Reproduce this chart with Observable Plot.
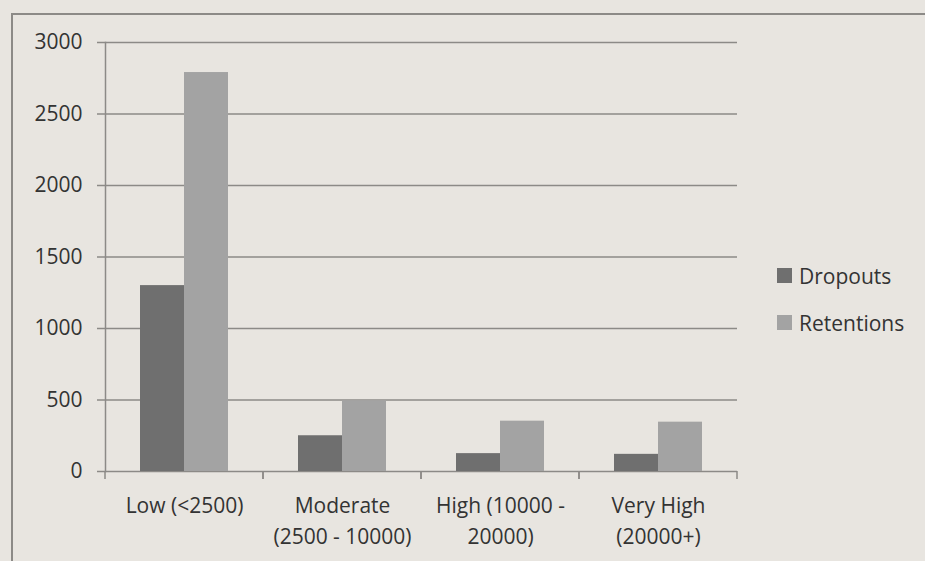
<!DOCTYPE html>
<html>
<head>
<meta charset="utf-8">
<script src="https://cdn.jsdelivr.net/npm/d3@7"></script>
<script src="https://cdn.jsdelivr.net/npm/@observablehq/plot@0.6"></script>
<style>
  html, body { margin: 0; padding: 0; background: #e8e5e0; overflow: hidden; }
  body { width: 925px; height: 561px; position: relative; font-family: "Open Sans", sans-serif; }
  #page { position: absolute; left: 0; top: 0; }
  #chart { position: absolute; left: 0; top: 0; }
  #legend { position: absolute; left: 777px; top: 252px; font-size: 21px; color: #333333; }
  #legend .item { display: flex; align-items: center; height: 47px; }
  #legend .sw { width: 15px; height: 15px; margin-right: 7px; }
</style>
</head>
<body>
<svg id="page" width="925" height="561">
  <path d="M12,561 V14 H925" fill="none" stroke="#8c8a87" stroke-width="2"/>
</svg>
<div id="chart"></div>
<div id="legend"></div>
<script>
const categories = ["Low (<2500)", "Moderate\n(2500 - 10000)", "High (10000 -\n20000)", "Very High\n(20000+)"];
const seriesNames = ["Dropouts", "Retentions"];
const dropouts = [1300, 250, 125, 120];
const retentions = [2790, 495, 352, 345];
const yTicks = [0, 500, 1000, 1500, 2000, 2500, 3000];
const colors = ["#6f6f6f", "#a3a3a3"];

const data = [];
categories.forEach((c, i) => {
  data.push({category: c, series: seriesNames[0], value: dropouts[i]});
  data.push({category: c, series: seriesNames[1], value: retentions[i]});
});

const gridColor = "#8c8a87";

function boundaryTicks(index, scales, values, dimensions, context) {
  const g = d3.create("svg:g");
  const [r0, r1] = scales.x.range();
  const y0 = scales.y(0);
  for (const px of [r0, r1]) {
    g.append("line")
      .attr("x1", px).attr("x2", px)
      .attr("y1", y0).attr("y2", y0 + 8)
      .attr("stroke", gridColor).attr("stroke-width", 1.5);
  }
  return g.node();
}

const plot = Plot.plot({
  width: 925,
  height: 561,
  marginLeft: 104,
  marginRight: 187,
  marginTop: 42,
  marginBottom: 90,
  style: {background: "transparent", fontFamily: "Open Sans, sans-serif", fontSize: "21px", color: "#333333"},
  fx: {domain: categories, padding: 0, label: null},
  x: {domain: seriesNames, paddingInner: 0, paddingOuter: 0.756, axis: null},
  y: {domain: [0, 3000], ticks: yTicks, label: null},
  color: {domain: seriesNames, range: colors},
  marks: [
    Plot.ruleY(yTicks, {stroke: gridColor, strokeWidth: 1.5}),
    Plot.barY(data, {fx: "category", x: "series", y: "value", fill: "series"}),
    Plot.frame({anchor: "left", facetAnchor: "left", stroke: gridColor, strokeWidth: 1.5}),
    boundaryTicks,
    Plot.axisY(yTicks, {tickSize: 8, tickPadding: 15, stroke: gridColor, strokeWidth: 1.5, label: null, fill: "#333333", tickFormat: d => String(d)}),
    Plot.axisFx({anchor: "bottom", tickSize: 0, tickPadding: 20, label: null, lineHeight: 1.45, fill: "#333333"})
  ]
});
document.getElementById("chart").appendChild(plot);

const colorScale = plot.scale("color");
const legend = document.getElementById("legend");
colorScale.domain.forEach((name, i) => {
  const item = document.createElement("div");
  item.className = "item";
  const sw = document.createElement("div");
  sw.className = "sw";
  sw.style.background = colorScale.range[i];
  const label = document.createElement("span");
  label.textContent = name;
  item.appendChild(sw);
  item.appendChild(label);
  legend.appendChild(item);
});
</script>
</body>
</html>
